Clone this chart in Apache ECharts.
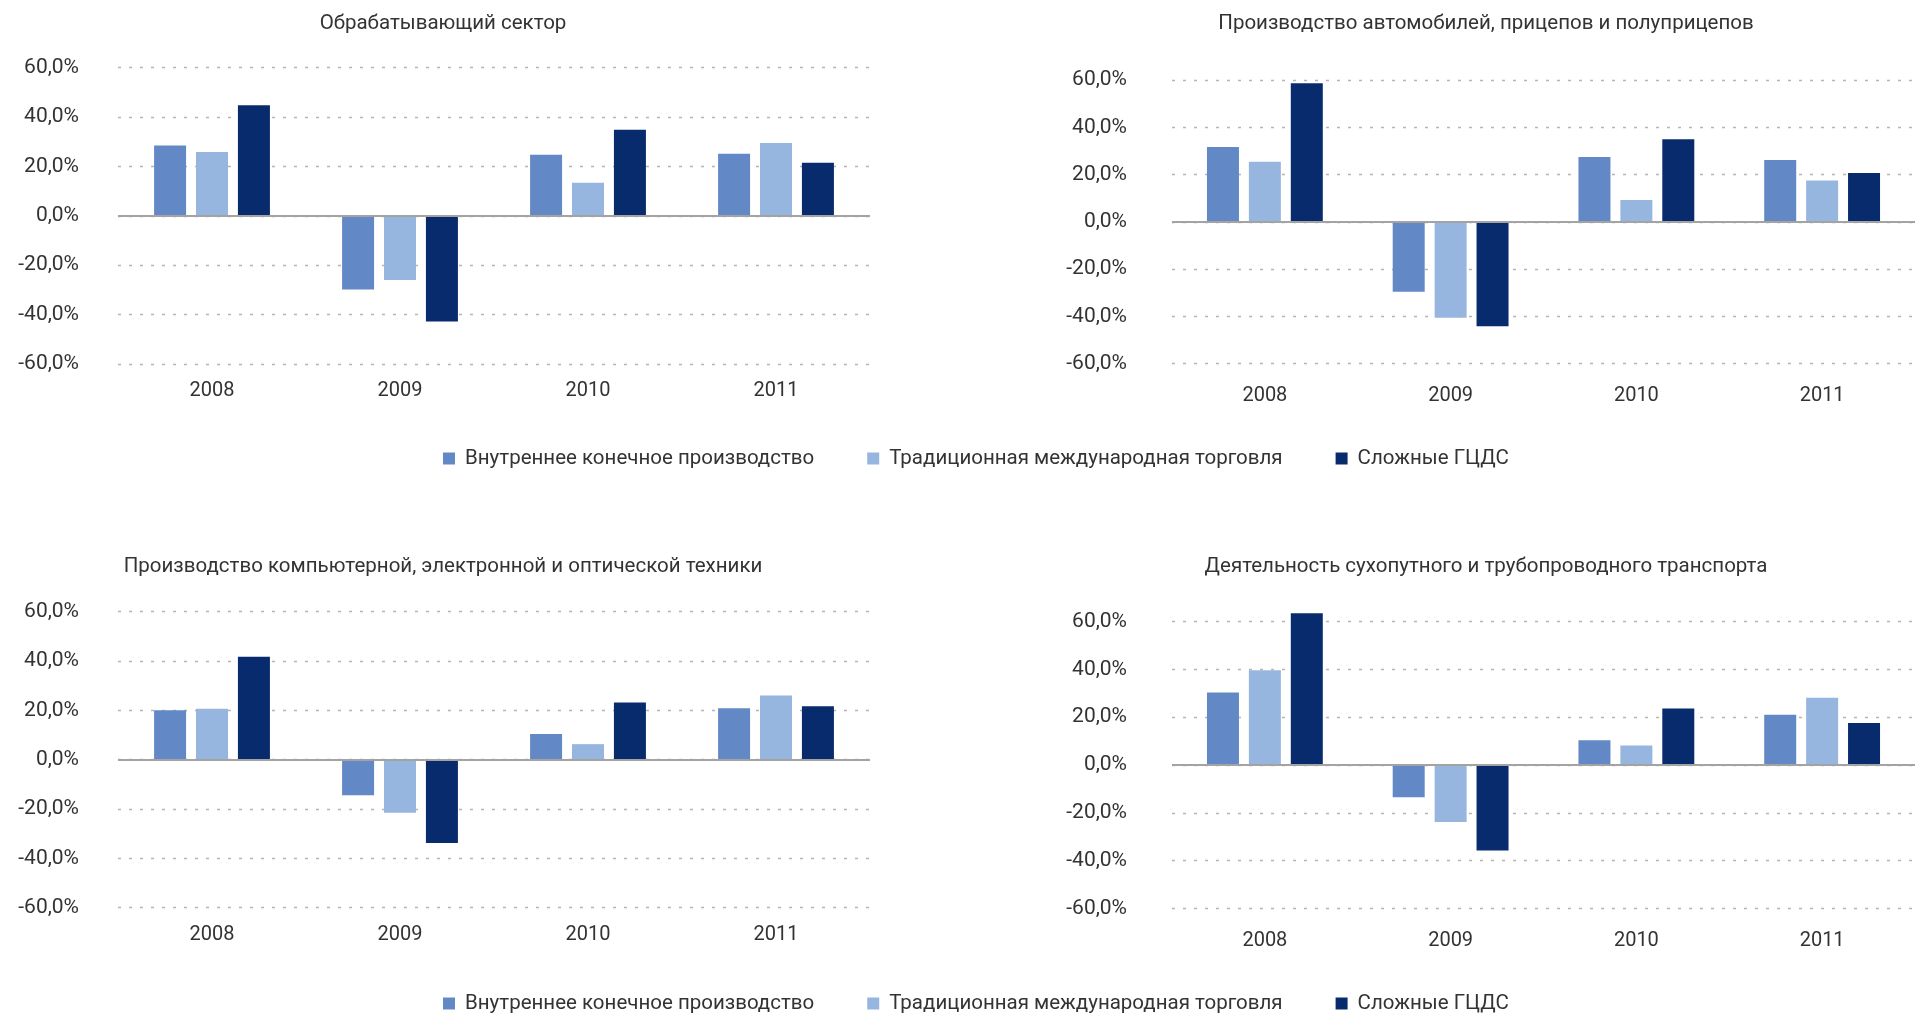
<!DOCTYPE html>
<html>
<head>
<meta charset="utf-8">
<script src="https://cdn.jsdelivr.net/npm/echarts@6/dist/echarts.min.js"></script>
<style>
html,body{margin:0;padding:0;background:#fff;}
#c{width:1915px;height:1014px;}
</style>
</head>
<body>
<div id="c"></div>
<script>
// ---- data ----
const categories = ['2008', '2009', '2010', '2011'];
const seriesNames = ['Внутреннее конечное производство', 'Традиционная международная торговля', 'Сложные ГЦДС'];
const chartTitles = [
  'Обрабатывающий сектор',
  'Производство автомобилей, прицепов и полуприцепов',
  'Производство компьютерной, электронной и оптической техники',
  'Деятельность сухопутного и трубопроводного транспорта'
];
const yTicks = [-60, -40, -20, 0, 20, 40, 60];

const manufDomestic    = [28.4, -29.8, 24.7, 25.1];
const manufTraditional = [25.8, -26.0, 13.4, 29.4];
const manufComplex     = [44.7, -42.8, 34.8, 21.4];

const autoDomestic    = [31.6, -29.6, 27.4, 26.1];
const autoTraditional = [25.4, -40.6, 9.2, 17.5];
const autoComplex     = [58.6, -44.2, 34.9, 20.7];

const compDomestic    = [20.0, -14.4, 10.4, 20.9];
const compTraditional = [20.7, -21.5, 6.3, 26.0];
const compComplex     = [41.7, -33.8, 23.2, 21.7];

const transDomestic    = [30.4, -13.5, 10.4, 21.0];
const transTraditional = [39.7, -23.9, 8.2, 28.2];
const transComplex     = [63.5, -35.8, 23.7, 17.6];

const chartData = [
  [manufDomestic, manufTraditional, manufComplex],
  [autoDomestic, autoTraditional, autoComplex],
  [compDomestic, compTraditional, compComplex],
  [transDomestic, transTraditional, transComplex]
];

// ---- styling / layout ----
const FONT = 'Roboto';
const TXT = '#333333';
const colors = ['#6289c6', '#97b6df', '#082b6e'];
const grids = [
  { left: 118, right: 1045, top: 67.5, bottom: 650 },
  { left: 1172, right: -8, top: 80, bottom: 650.4 },
  { left: 118, right: 1045, top: 611.7, bottom: 106.3 },
  { left: 1172, right: -8, top: 621.7, bottom: 105.7 }
];
const yLabelMargin = [39, 45, 39, 45];
const xLabelMargin = [17, 22, 17, 23];
const titlePos = [[438, 8], [1481, 8], [438, 551], [1481, 551]];

const fmt = v => v.toFixed(1).replace('.', ',') + '%';

const option = {
  animation: false,
  backgroundColor: '#ffffff',
  textStyle: { fontFamily: FONT },
  title: chartTitles.map((t, i) => ({
    text: t,
    left: titlePos[i][0],
    top: titlePos[i][1],
    textAlign: 'center',
    textStyle: { fontFamily: FONT, fontSize: 20.5, fontWeight: 'normal', color: TXT }
  })),
  legend: [443, 988].map(top => ({
    data: seriesNames,
    top: top,
    left: 438,
    itemWidth: 12,
    itemHeight: 12,
    itemGap: 53,
    icon: 'rect',
    textStyle: { fontFamily: FONT, fontSize: 20.5, color: TXT, padding: [0, 0, 0, 5] }
  })),
  grid: grids.map(g => Object.assign({ containLabel: false }, g)),
  xAxis: grids.map((g, i) => ({
    type: 'category',
    gridIndex: i,
    data: categories,
    axisLine: { show: false },
    axisTick: { show: false },
    axisLabel: { fontFamily: FONT, fontSize: 20, color: TXT, margin: xLabelMargin[i] }
  })),
  yAxis: grids.map((g, i) => ({
    type: 'value',
    gridIndex: i,
    min: yTicks[0],
    max: yTicks[yTicks.length - 1],
    interval: yTicks[1] - yTicks[0],
    axisLine: { show: false },
    axisTick: { show: false },
    axisLabel: { fontFamily: FONT, fontSize: 21, color: TXT, margin: yLabelMargin[i], formatter: fmt },
    splitLine: { show: true, lineStyle: { color: '#b5b5b5', width: 1.3, type: [3, 8] } }
  })),
  series: []
};

chartData.forEach((arrs, gi) => {
  arrs.forEach((vals, si) => {
    const s = {
      type: 'bar',
      name: seriesNames[si],
      xAxisIndex: gi,
      yAxisIndex: gi,
      data: vals,
      barWidth: 32,
      barGap: '31%',
      clip: false,
      itemStyle: { color: colors[si] }
    };
    if (si === 0) {
      s.markLine = {
        silent: true,
        symbol: 'none',
        label: { show: false },
        lineStyle: { color: '#a3a3a3', width: 2, type: 'solid' },
        data: [{ yAxis: 0 }]
      };
    }
    option.series.push(s);
  });
});

const chart = echarts.init(document.getElementById('c'));
chart.setOption(option);
</script>
</body>
</html>
